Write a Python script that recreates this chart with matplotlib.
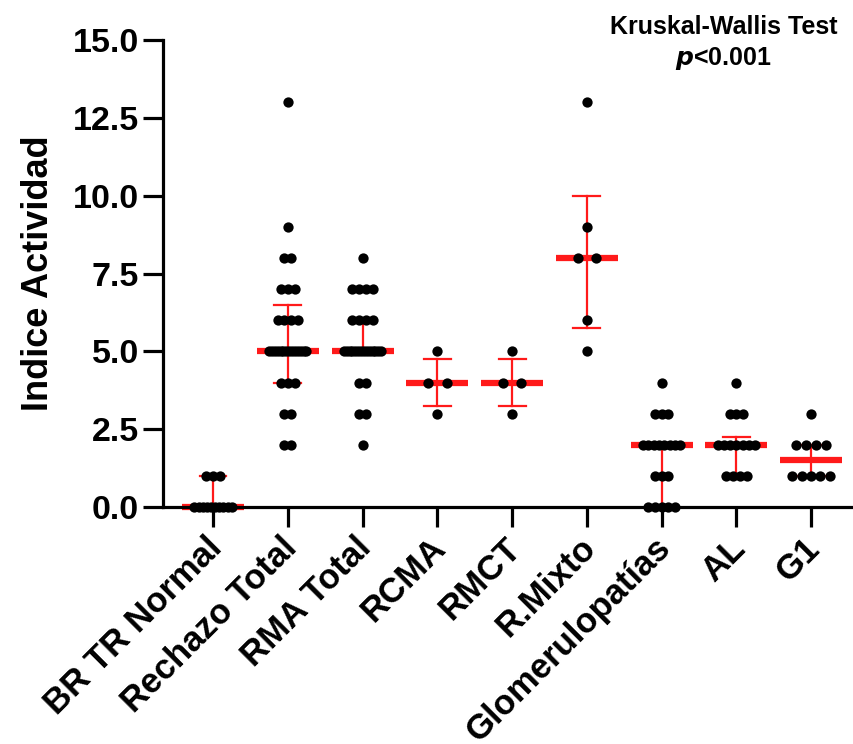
import matplotlib
matplotlib.use("Agg")
import matplotlib.pyplot as plt
import matplotlib.transforms as mtransforms
import numpy as np

plt.rcParams['font.family'] = ['Liberation Sans', 'DejaVu Sans']
plt.rcParams['font.weight'] = 'bold'

# groups and the dots (value -> how many dots)
groups = ["BR TR Normal", "Rechazo Total", "RMA Total", "RCMA", "RMCT",
          "R.Mixto", "Glomerulopatías", "AL", "G1"]

vals = [
    [0, 1],
    [2, 3, 4, 5, 6, 7, 8, 9, 13],
    [2, 3, 4, 5, 6, 7, 8],
    [3, 4, 5],
    [3, 4, 5],
    [5, 6, 8, 9, 13],
    [0, 1, 2, 3, 4],
    [1, 2, 3, 4],
    [1, 2, 3],
]
counts = [
    [10, 3],
    [2, 2, 3, 14, 4, 3, 2, 1, 1],
    [1, 2, 2, 14, 4, 4, 1],
    [1, 2, 1],
    [1, 2, 1],
    [1, 1, 2, 1, 1],
    [5, 3, 8, 3, 1],
    [4, 7, 3, 1],
    [5, 4, 1],
]

medians = [0, 5, 5, 4, 4, 8, 2, 2, 1.5]
q1 = [0, 4, 5, 3.25, 3.25, 5.75, 0, 1, 1]
q3 = [1, 6.5, 6, 4.75, 4.75, 10, 2, 2.25, 2]

# horizontal spacing of tied dots in each column
spread = [0.091, 0.091, 0.091, 0.247, 0.247, 0.247, 0.091, 0.091, 0.134]

fig = plt.figure(figsize=(8.54, 7.44), dpi=100)
ax = fig.add_axes([0.1909, 0.3185, 0.807, 0.6275])

maxspan = 0.5
red = '#ff1a1a'
for i in range(len(groups)):
    # median line and interquartile range
    ax.plot([i - 0.415, i + 0.415], [medians[i], medians[i]], color=red,
            lw=4.5, solid_capstyle='butt', zorder=2, clip_on=False)
    ax.plot([i, i], [q1[i], q3[i]], color=red, lw=1.6, zorder=2, clip_on=False)
    for q in (q1[i], q3[i]):
        ax.plot([i - 0.18, i + 0.18], [q, q], color=red, lw=1.6, zorder=2, clip_on=False)
    xs = []
    ys = []
    for v, n in zip(vals[i], counts[i]):
        if n > 1:
            d = min(spread[i], maxspan / (n - 1))
            off = (np.arange(n) - (n - 1) / 2) * d
        else:
            off = np.array([0.0])
        xs.extend(i + off)
        ys.extend([v] * n)
    ax.scatter(xs, ys, s=55, color='black', zorder=3, clip_on=False, linewidths=0)

ax.set_xlim(-0.669, 8.55)
ax.set_ylim(0, 15)
ticks = np.arange(0, 15.1, 2.5)
ax.set_yticks(ticks)
ax.set_yticklabels(['%.1f' % t for t in ticks], fontsize=24.5, fontweight='bold')
ax.set_xticks(range(len(groups)))
ax.set_xticklabels(groups, rotation=45, ha='right', rotation_mode='anchor',
                   fontsize=25, fontweight='bold')
ax.set_ylabel("Indice Actividad", fontsize=26, fontweight='bold', labelpad=12)

for s in ('top', 'right'):
    ax.spines[s].set_visible(False)
for s in ('left', 'bottom'):
    ax.spines[s].set_linewidth(2.3)
ax.tick_params(axis='both', width=2.3, length=14.5, pad=3)

# nudge the slanted labels a bit to the left
shift = mtransforms.ScaledTranslation(-8 / 100, 0, fig.dpi_scale_trans)
for lab in ax.get_xticklabels():
    lab.set_transform(lab.get_transform() + shift)

fig.text(0.847, 0.964, "Kruskal-Wallis Test", ha='center', va='center',
         fontsize=18, fontweight='bold')
fig.text(0.847, 0.922, r"$\bfit{p}$<0.001", ha='center', va='center',
         fontsize=18, fontweight='bold')

fig.savefig("out.png", dpi=100)
